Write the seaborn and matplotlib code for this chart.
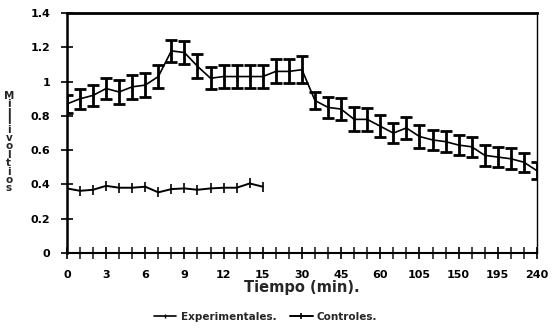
import matplotlib
matplotlib.use("Agg")
import matplotlib.pyplot as plt
import seaborn as sns
import pandas as pd
import numpy as np

# Data
tiempos = [0, 1, 2, 3, 4, 5, 6, 7, 8, 9, 10, 11, 12, 13, 14, 15,
           20, 25, 30, 35, 40, 45, 50, 55, 60, 75, 90, 105, 120, 135,
           150, 165, 180, 195, 210, 225, 240]
experimentales = [0.87, 0.90, 0.92, 0.96, 0.94, 0.97, 0.98, 1.03, 1.18, 1.17,
                  1.09, 1.02, 1.03, 1.03, 1.03, 1.03, 1.06, 1.06, 1.07, 0.89,
                  0.85, 0.84, 0.78, 0.78, 0.74, 0.70, 0.73, 0.68, 0.66, 0.65,
                  0.63, 0.62, 0.57, 0.56, 0.55, 0.53, 0.48]
error_exp = [0.05, 0.06, 0.06, 0.06, 0.07, 0.07, 0.07, 0.065, 0.065, 0.065,
             0.07, 0.065, 0.065, 0.065, 0.065, 0.065, 0.07, 0.07, 0.08, 0.05,
             0.06, 0.065, 0.07, 0.065, 0.065, 0.06, 0.065, 0.065, 0.06, 0.06,
             0.06, 0.06, 0.06, 0.06, 0.06, 0.055, 0.05]
controles = [0.377, 0.363, 0.369, 0.392, 0.381, 0.381, 0.387, 0.354, 0.373,
             0.377, 0.369, 0.377, 0.381, 0.381, 0.406, 0.387]
tick_labels = ["0", "3", "6", "9", "12", "15", "30", "45", "60", "105", "150", "195", "240"]

sns.set_style("ticks")
plt.rcParams['font.family'] = ['DejaVu Sans']
plt.rcParams['font.weight'] = 'bold'

df_exp = pd.DataFrame({"pos": np.arange(len(tiempos)), "tiempo": tiempos,
                       "mv": experimentales, "err": error_exp})
df_con = pd.DataFrame({"pos": np.arange(len(controles)), "mv": controles})

fig = plt.figure(figsize=(5.53, 3.29), dpi=100)
ax = fig.add_axes([0.121, 0.231, 0.850, 0.729])

ax.errorbar(df_exp["pos"], df_exp["mv"], yerr=df_exp["err"], fmt="none",
            ecolor="black", elinewidth=2.0, capsize=4, capthick=2.0, zorder=3)
sns.lineplot(data=df_exp, x="pos", y="mv", ax=ax, color="black", linewidth=1.2,
             marker="|", markersize=4, markeredgewidth=1.0, markeredgecolor="black",
             label="Experimentales.", zorder=4)
sns.lineplot(data=df_con, x="pos", y="mv", ax=ax, color="black", linewidth=1.4,
             marker="|", markersize=6.5, markeredgewidth=1.2, markeredgecolor="black",
             label="Controles.", zorder=4)

ax.set_xlim(0, len(tiempos) - 1)
ax.set_ylim(0, 1.4)
ax.set_xticks(np.arange(0, len(tiempos), 3))
ax.set_xticklabels(tick_labels)
ax.set_xticks(np.arange(len(tiempos)), minor=True)
ax.set_yticks([0, 0.2, 0.4, 0.6, 0.8, 1.0, 1.2, 1.4])
ax.set_yticklabels(["0", "0.2", "0.4", "0.6", "0.8", "1", "1.2", "1.4"])
ax.tick_params(axis="both", which="major", direction="inout", length=8, width=1.2,
               labelsize=8, pad=8, colors="black")
ax.tick_params(axis="x", which="minor", direction="inout", length=8, width=1.2)
for lbl in ax.get_xticklabels() + ax.get_yticklabels():
    lbl.set_fontweight("heavy")

ax.set_xlabel("Tiempo (min).", fontsize=10.5, fontweight="heavy", labelpad=0)
ax.set_ylabel("")
for side, lw in [("top", 2.0), ("left", 1.8), ("bottom", 1.5), ("right", 1.0)]:
    ax.spines[side].set_visible(True)
    ax.spines[side].set_linewidth(lw)
    ax.spines[side].set_color("black")

fig.text(0.016, 0.568, "\n".join("Millivoltios"), ha="center", va="center",
         fontsize=7.5, fontweight="heavy", linespacing=0.8)

handles, labels = ax.get_legend_handles_labels()
ax.get_legend().remove()
leg = fig.legend(handles, labels, loc="center", bbox_to_anchor=(0.48, 0.037), ncol=2,
                 frameon=False, fontsize=7.5, handlelength=2.2, columnspacing=1.3,
                 handletextpad=0.4, borderaxespad=0, borderpad=0, markerscale=0.7)
for t in leg.get_texts():
    t.set_fontweight("heavy")

fig.savefig("out.png", dpi=100, facecolor="white")
